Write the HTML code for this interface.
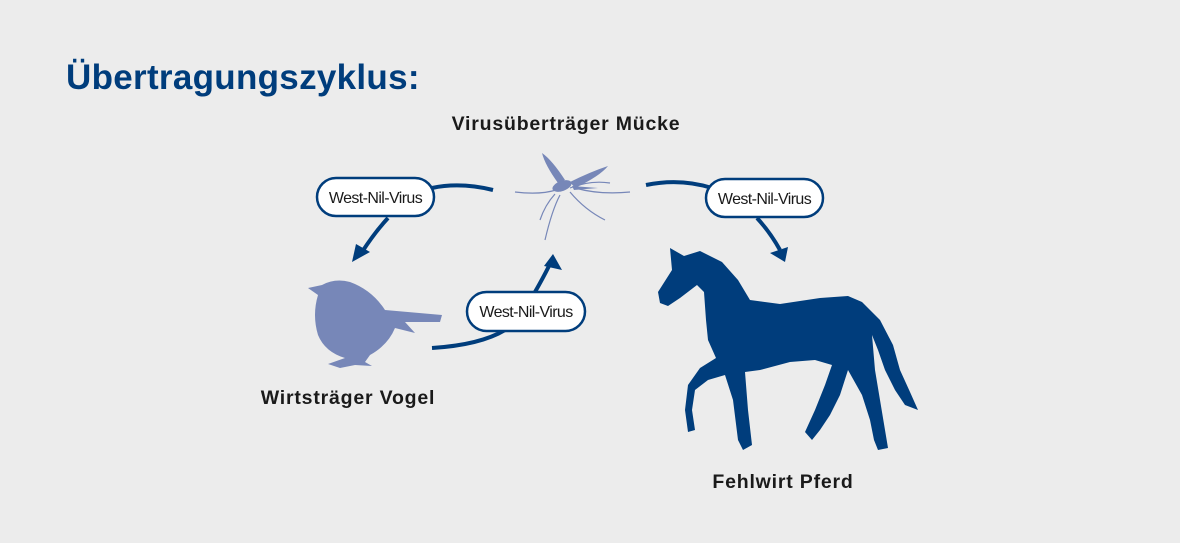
<!DOCTYPE html>
<html><head><meta charset="utf-8"><style>
html,body{margin:0;padding:0;background:#ececec;}
body{width:1180px;height:543px;position:relative;overflow:hidden;font-family:"Liberation Sans",sans-serif;}
.t{position:absolute;white-space:nowrap;}
</style></head><body>
<svg width="1180" height="543" style="position:absolute;left:0;top:0">
<g fill="none" stroke="#003d7c" stroke-width="4">
<path d="M493,190 Q460,182 432,188"/>
<path d="M388,218 Q375,232 362,252"/>
<path d="M432,348 Q480,345 505,330"/>
<path d="M535,292 Q543,278 549,266"/>
<path d="M646,185 Q680,178 712,188"/>
<path d="M757,218 Q770,232 780,250"/>
</g>
<g fill="#003d7c">
<polygon points="352,262 370,252 356,244"/>
<polygon points="553,254 562,270 544,266"/>
<polygon points="785,262 770,253 788,247"/>
</g>
<g fill="#fff" stroke="#003d7c" stroke-width="2.5">
<rect x="317" y="178" width="117" height="38" rx="19"/>
<rect x="467" y="292" width="118" height="39" rx="19.5"/>
<rect x="706" y="179" width="117" height="38" rx="19"/>
</g>
<g font-family="Liberation Sans, sans-serif" font-size="16" fill="#1a1a1a" text-anchor="middle" letter-spacing="-0.6">
<text x="375.5" y="203">West-Nil-Virus</text>
<text x="526" y="317">West-Nil-Virus</text>
<text x="764.5" y="204">West-Nil-Virus</text>
</g>
<path fill="#003d7c" d="M670,248 L684,256 L700,251 L722,262 L738,280 L750,300 L780,304 L820,298 L848,296 L862,302 L880,320 L893,345 L900,370 L910,392 L918,410 L905,405 L895,390 L885,370 L878,350 L872,335 L875,370 L880,400 L885,430 L888,448 L878,450 L874,440 L870,420 L862,395 L848,370 L840,395 L830,415 L820,430 L812,440 L805,432 L815,410 L825,385 L832,365 L815,360 L790,362 L760,370 L745,372 L748,410 L752,445 L743,450 L738,440 L733,400 L725,375 L708,380 L695,390 L692,410 L695,430 L688,432 L685,410 L688,385 L700,368 L716,358 L708,340 L706,320 L704,292 L697,285 L680,298 L668,306 L660,303 L658,292 L672,270 Z"/>
<g fill="#7787b8">
<path d="M308,288 L322,285 Q335,278 350,282 Q372,290 385,310 L442,315 L440,322 L405,322 L415,333 L395,328 Q388,345 370,355 L365,362 L372,366 L355,365 L340,368 L328,364 L345,358 Q325,352 318,335 Q312,315 318,295 Z"/>
</g>
<g stroke="#7787b8" fill="none" stroke-width="1.2">
<path d="M556,190 Q540,195 515,192"/>
<path d="M560,195 Q552,210 545,240"/>
<path d="M555,194 Q545,205 540,220"/>
<path d="M570,192 Q585,210 605,220"/>
<path d="M575,188 Q600,195 630,192"/>
<path d="M570,188 Q590,180 610,183"/>
</g>
<g fill="#7787b8">
<ellipse cx="562" cy="186" rx="10" ry="5" transform="rotate(-20 562 186)"/>
<path d="M558,183 Q545,165 542,153 Q552,160 565,180 Z"/>
<path d="M570,182 Q590,172 608,166 Q600,176 575,188 Z"/>
<path d="M572,186 L598,188 L574,190 Z"/>
</g>
</svg>
<div class="t" style="left:66px;top:58px;font-size:35px;font-weight:bold;color:#003d7c;letter-spacing:0.3px">Übertragungszyklus:</div>
<div class="t" style="left:566px;top:113px;transform:translateX(-50%);font-size:19.5px;font-weight:bold;color:#1a1a1a;letter-spacing:0.8px">Virusüberträger Mücke</div>
<div class="t" style="left:348px;top:387px;transform:translateX(-50%);font-size:19.5px;font-weight:bold;color:#1a1a1a;letter-spacing:0.8px">Wirtsträger Vogel</div>
<div class="t" style="left:783px;top:471px;transform:translateX(-50%);font-size:19.5px;font-weight:bold;color:#1a1a1a;letter-spacing:0.8px">Fehlwirt Pferd</div>
</body></html>
